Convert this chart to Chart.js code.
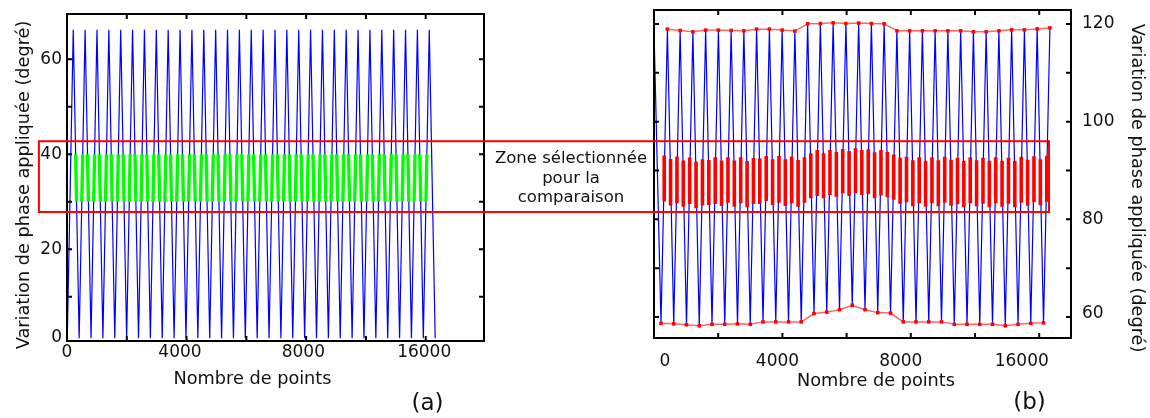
<!DOCTYPE html>
<html><head><meta charset="utf-8">
<script src="https://cdn.jsdelivr.net/npm/chart.js@4.4.1/dist/chart.umd.min.js"></script>
<style>
html,body{margin:0;padding:0;background:#fff;}
#wrap{position:relative;width:1150px;height:418px;overflow:hidden;background:#fff;}
#wrap canvas{position:absolute;left:0;top:0;width:1150px;height:418px;}
</style></head><body>
<div id="wrap"><canvas id="ca" width="1150" height="418"></canvas><canvas id="cb" width="1150" height="418"></canvas></div>
<script>
// ================= DATA =================
// (a) applied phase sweep : troughs / peaks (point index, degree)
const troughsA_x = [10, 407, 804, 1201, 1598, 1995, 2392, 2789, 3186, 3583, 3980, 4377, 4774, 5171, 5568, 5965, 6362, 6759, 7156, 7553, 7950, 8347, 8744, 9141, 9538, 9935, 10332, 10729, 11126, 11523, 11920, 12317];
const troughsA_y = [1.3, 1.3, 1.3, 1.3, 1.3, 1.3, 1.3, 1.3, 1.3, 1.3, 1.3, 1.3, 1.3, 1.3, 1.3, 1.3, 1.3, 1.3, 1.3, 1.3, 1.3, 1.3, 1.3, 1.3, 1.3, 1.3, 1.3, 1.3, 1.3, 1.3, 1.3, 1.3];
const peaksA_x = [209, 606, 1003, 1400, 1797, 2194, 2591, 2988, 3385, 3782, 4179, 4576, 4973, 5370, 5767, 6164, 6561, 6958, 7355, 7752, 8149, 8546, 8943, 9340, 9737, 10134, 10531, 10928, 11325, 11722, 12119];
const peaksA_y = [66.2, 66.2, 66.2, 66.2, 66.2, 66.2, 66.2, 66.2, 66.2, 66.2, 66.2, 66.2, 66.2, 66.2, 66.2, 66.2, 66.2, 66.2, 66.2, 66.2, 66.2, 66.2, 66.2, 66.2, 66.2, 66.2, 66.2, 66.2, 66.2, 66.2, 66.2];
const zoneA = [30, 40];                      // selected band shown in green
const xTickMarksA = [0, 2000, 4000, 6000, 8000, 10000, 12000];
const yTickMarksA = [0, 10, 20, 30, 40, 50, 60];
const xLabelPosA = [0, 3780, 7906, 11950];
const xLabelsA = ['0', '4000', '8000', '16000'];
const yLabelPosA = [1.5, 20, 40, 60];
const yLabelsA = ['0', '20', '40', '60'];

// (b) measured phase : lead point, troughs, peaks
const leadB_x = [0];
const leadB_y = [119.0];
const troughsB_x = [218, 615, 1012, 1410, 1807, 2204, 2601, 2998, 3396, 3793, 4190, 4587, 4984, 5382, 5779, 6176, 6573, 6970, 7368, 7765, 8162, 8559, 8956, 9354, 9751, 10148, 10545, 10942, 11340, 11737, 12134];
const troughsB_y = [58.7, 58.6, 58.4, 58.2, 58.5, 58.5, 58.6, 58.5, 59.0, 59.0, 59.0, 59.0, 60.7, 61.0, 61.5, 62.4, 61.5, 60.9, 60.8, 59.0, 59.0, 59.0, 59.0, 58.5, 58.5, 58.5, 58.5, 58.2, 58.5, 58.7, 58.8];
const peaksB_x = [417, 814, 1211, 1609, 2006, 2403, 2800, 3197, 3595, 3992, 4389, 4786, 5183, 5581, 5978, 6375, 6772, 7169, 7567, 7964, 8361, 8758, 9155, 9553, 9950, 10347, 10744, 11141, 11539, 11936, 12333];
const peaksB_y = [118.95, 118.67, 118.4, 118.75, 118.75, 118.67, 118.6, 118.95, 118.95, 118.75, 118.55, 120.05, 120.1, 120.25, 120.1, 120.2, 120.1, 120.05, 118.6, 118.6, 118.6, 118.6, 118.6, 118.6, 118.4, 118.4, 118.6, 118.8, 118.8, 119.0, 119.2];
// (b) selected zone on each ramp
const barsB_x = [318, 516, 715, 913, 1112, 1310, 1510, 1708, 1907, 2105, 2304, 2502, 2701, 2899, 3098, 3296, 3496, 3694, 3893, 4091, 4290, 4488, 4687, 4885, 5084, 5282, 5482, 5680, 5879, 6077, 6276, 6474, 6673, 6871, 7070, 7268, 7468, 7666, 7865, 8063, 8262, 8460, 8659, 8857, 9056, 9254, 9454, 9652, 9851, 10049, 10248, 10446, 10645, 10843, 11042, 11240, 11440, 11638, 11837, 12035, 12234];
const barsB_high = [93.05, 92.38, 92.85, 92.03, 92.64, 91.82, 92.32, 92.17, 92.73, 92.03, 92.73, 92.03, 92.73, 91.97, 92.58, 92.44, 92.99, 92.32, 92.99, 92.32, 92.85, 92.17, 92.73, 93.54, 94.22, 93.54, 94.22, 93.81, 94.43, 94.02, 94.57, 94.22, 94.36, 93.75, 94.22, 93.8, 93.3, 92.6, 92.8, 92.1, 92.7, 92.0, 92.7, 92.1, 92.8, 92.2, 92.6, 92.0, 92.7, 92.1, 92.6, 92.0, 92.7, 92.0, 92.6, 92.0, 92.8, 92.2, 92.9, 92.3, 93.0];
const barsB_low = [83.63, 82.81, 83.30, 82.60, 83.16, 82.27, 82.81, 82.95, 83.16, 82.75, 83.42, 82.60, 83.30, 82.48, 83.16, 83.16, 83.77, 82.95, 83.42, 82.75, 83.30, 82.60, 83.42, 84.32, 84.80, 84.32, 85.0, 84.65, 85.35, 84.80, 85.35, 85.0, 85.2, 84.32, 84.86, 84.5, 84.0, 83.2, 83.5, 82.7, 83.3, 82.6, 83.3, 82.7, 83.4, 82.8, 83.1, 82.5, 83.3, 82.7, 83.2, 82.5, 83.3, 82.6, 83.2, 82.5, 83.4, 82.8, 83.5, 82.9, 83.6];
const xTickMarksB = [0, 2000, 4000, 6000, 8000, 10000, 12000];
const yTickMarksB = [60, 70, 80, 90, 100, 110, 120];
const xLabelPosB = [343, 3847, 7688, 11455];
const xLabelsB = ['0', '4000', '8000', '16000'];
const yLabelPosB = [60.8, 80, 100, 120];
const yLabelsB = ['60', '80', '100', '120'];

// selection box (degree values on scale b, point index on scales a / b)
const boxB_y = [81.5, 96.0];
const boxLeftA_x = -940;
const boxRightB_x = 12305;
const zoneText = ['Zone sélectionnée', 'pour la', 'comparaison'];

// ================= BUILD =================
const FONT = "'DejaVu Sans', sans-serif";
function interleave(tx, ty, px, py) {
  const out = [];
  for (let i = 0; i < Math.max(tx.length, px.length); i++) {
    if (i < tx.length) out.push({x: tx[i], y: ty[i]});
    if (i < px.length) out.push({x: px[i], y: py[i]});
  }
  return out;
}
const blueA = interleave(troughsA_x, troughsA_y, peaksA_x, peaksA_y);
const greenA = blueA.slice(1, blueA.length - 1);
const blueB = leadB_x.map((x, i) => ({x, y: leadB_y[i]})).concat(interleave(troughsB_x, troughsB_y, peaksB_x, peaksB_y));
const barsB = [];
barsB_x.forEach((x, i) => { barsB.push({x, y: barsB_low[i]}, {x, y: barsB_high[i]}, {x, y: null}); });
const topB = peaksB_x.map((x, i) => ({x, y: peaksB_y[i]}));
const botB = troughsB_x.map((x, i) => ({x, y: troughsB_y[i]}));

function framePlugin(cfg) {
  return {
    id: 'frame',
    beforeDatasetDraw(chart, args) {
      const ds = chart.data.datasets[args.index];
      if (!ds.band) return;
      const a = chart.chartArea, y = chart.scales.y, ctx = chart.ctx;
      const t = y.getPixelForValue(ds.band[1]), b = y.getPixelForValue(ds.band[0]);
      ctx.save(); ctx.beginPath(); ctx.rect(a.left, t, a.right - a.left, b - t); ctx.clip();
    },
    afterDatasetDraw(chart, args) {
      if (chart.data.datasets[args.index].band) chart.ctx.restore();
    },
    afterDraw(chart) {
      const {ctx, chartArea: a} = chart; const x = chart.scales.x, y = chart.scales.y;
      ctx.save();
      ctx.strokeStyle = '#000'; ctx.lineWidth = 2;
      ctx.beginPath();
      cfg.xMarks.forEach(v => { const p = x.getPixelForValue(v); if (p < a.left + 2 || p > a.right - 2) return;
        ctx.moveTo(p, a.bottom); ctx.lineTo(p, a.bottom - 5); ctx.moveTo(p, a.top); ctx.lineTo(p, a.top + 5); });
      cfg.yMarks.forEach(v => { const p = y.getPixelForValue(v); if (p < a.top + 2 || p > a.bottom - 2) return;
        ctx.moveTo(a.left, p); ctx.lineTo(a.left + 5, p); ctx.moveTo(a.right, p); ctx.lineTo(a.right - 5, p); });
      ctx.stroke();
      ctx.strokeRect(a.left, a.top, a.right - a.left, a.bottom - a.top);
      if (cfg.extra) cfg.extra(chart, ctx);
      ctx.fillStyle = '#111';
      cfg.texts.forEach(t => {
        ctx.save(); ctx.translate(t.x, t.y); ctx.rotate(t.rot || 0);
        ctx.font = t.size + 'px ' + FONT; ctx.textAlign = 'center'; ctx.textBaseline = 'alphabetic';
        ctx.fillText(t.text, 0, 0); ctx.restore();
      });
      ctx.restore();
    }
  };
}

// tick gap is produced with an invisible tick mark so it does not enlarge the layout padding
const hiddenGrid = (len) => ({display: true, drawOnChartArea: false, drawTicks: true, tickLength: len, color: 'rgba(0,0,0,0)'});
function axisX(min, max, pos, labels, gap) {
  return {type: 'linear', position: 'bottom', min, max, bounds: 'data',
    grid: hiddenGrid(gap), border: {display: false},
    afterBuildTicks: s => { s.ticks = pos.map(v => ({value: v})); },
    afterFit: s => { s.height = 40; },
    ticks: {autoSkip: false, maxRotation: 0, padding: 0, color: '#111', font: {family: FONT, size: 17},
      callback: (v, i) => labels[i]}};
}
function axisY(min, max, pos, labels, side, gap, w) {
  return {type: 'linear', position: side, min, max, bounds: 'data',
    grid: hiddenGrid(gap), border: {display: false},
    afterBuildTicks: s => { s.ticks = pos.map(v => ({value: v})); },
    afterFit: s => { s.width = w; },
    ticks: {autoSkip: false, padding: 0, color: '#111', font: {family: FONT, size: 17, lineHeight: 1},
      callback: (v, i) => labels[i]}};
}
const common = {responsive: false, animation: false, devicePixelRatio: 1, events: [],
  plugins: {legend: {display: false}, tooltip: {enabled: false}}};

const chartA = new Chart(document.getElementById('ca'), {
  type: 'line',
  data: {datasets: [
    {label: 'zone', data: greenA, band: zoneA, borderColor: '#00ff00', borderWidth: 3.4, borderCapStyle: 'butt', pointRadius: 0, order: 0},
    {label: 'phase', data: blueA, borderColor: '#0000ff', borderWidth: 1.2, pointRadius: 0, order: 1}
  ]},
  options: Object.assign({}, common, {
    layout: {padding: {left: 27, right: 666, top: 14, bottom: 37}},
    scales: {x: axisX(0, 13950, xLabelPosA, xLabelsA, 1.5), y: axisY(0.7, 69.5, yLabelPosA, yLabelsA, 'left', 5, 40)}
  }),
  plugins: [framePlugin({xMarks: xTickMarksA, yMarks: yTickMarksA, texts: [
    {text: 'Variation de phase appliquée (degré)', x: 28.5, y: 185, rot: -Math.PI / 2, size: 17.7},
    {text: 'Nombre de points', x: 252.5, y: 384, size: 17.7},
    {text: '(a)', x: 427.5, y: 410, size: 23}
  ]})]
});

const chartB = new Chart(document.getElementById('cb'), {
  type: 'line',
  data: {datasets: [
    {label: 'max', data: topB, borderColor: 'rgba(255,0,0,0.6)', borderWidth: 1.5, pointRadius: 2.5, pointStyle: 'rect', pointBackgroundColor: '#ff0000', pointBorderColor: '#ff0000', pointBorderWidth: 0, order: 0},
    {label: 'min', data: botB, borderColor: 'rgba(255,0,0,0.6)', borderWidth: 1.5, pointRadius: 2.5, pointStyle: 'rect', pointBackgroundColor: '#ff0000', pointBorderColor: '#ff0000', pointBorderWidth: 0, order: 0},
    {label: 'zone', data: barsB, borderColor: '#ff0000', borderWidth: 3.6, borderCapStyle: 'butt', pointRadius: 0, spanGaps: false, order: 1},
    {label: 'phase', data: blueB, borderColor: '#0000ff', borderWidth: 1.2, pointRadius: 0, order: 2}
  ]},
  options: Object.assign({}, common, {
    layout: {padding: {left: 654, right: 19, top: 10, bottom: 40}},
    scales: {x: axisX(0, 12990, xLabelPosB, xLabelsB, 13), y: axisY(55.7, 122.87, yLabelPosB, yLabelsB, 'right', 11, 60)}
  }),
  plugins: [framePlugin({xMarks: xTickMarksB, yMarks: yTickMarksB, texts: [
    {text: 'Variation de phase appliquée (degré)', x: 1132, y: 188, rot: Math.PI / 2, size: 17.7},
    {text: 'Nombre de points', x: 876, y: 386, size: 17.7},
    {text: '(b)', x: 1029.5, y: 408.5, size: 23},
    {text: zoneText[0], x: 571, y: 162.5, size: 16.5},
    {text: zoneText[1], x: 571, y: 182.5, size: 16.5},
    {text: zoneText[2], x: 571, y: 202, size: 16.5}
  ], extra: (chart, ctx) => {
    const y = chart.scales.y, x = chart.scales.x;
    const t = y.getPixelForValue(boxB_y[1]), b = y.getPixelForValue(boxB_y[0]);
    const l = chartA.scales.x.getPixelForValue(boxLeftA_x), r = x.getPixelForValue(boxRightB_x);
    ctx.save(); ctx.strokeStyle = '#ff0000'; ctx.lineWidth = 2;
    ctx.strokeRect(l, t, r - l, b - t); ctx.restore();
  }})]
});
</script>
</body></html>
